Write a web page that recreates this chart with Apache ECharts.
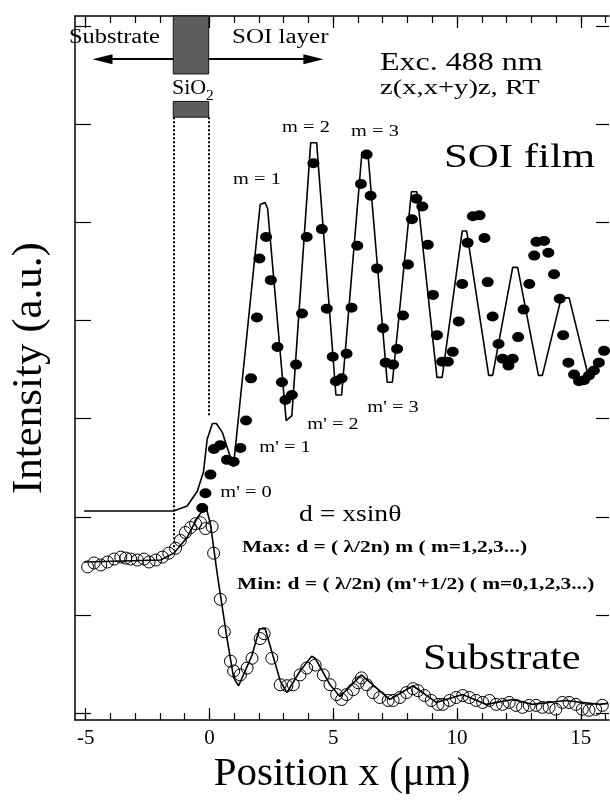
<!DOCTYPE html>
<html>
<head>
<meta charset="utf-8">
<script src="https://cdn.jsdelivr.net/npm/echarts@6/dist/echarts.min.js"></script>
<style>
  html, body { margin: 0; padding: 0; background: #fff; }
  #main { width: 610px; height: 800px; }
</style>
</head>
<body>
<div id="main"></div>
<script>
// 数据: [position x (um), intensity (a.u.)]
const soiFilmData = [
  [-0.29, 2.09], [-0.16, 2.24], [0.04, 2.43], [0.18, 2.69], [0.44, 2.73], [0.71, 2.58],
  [0.98, 2.56], [1.25, 2.70], [1.48, 2.98], [1.68, 3.41], [1.92, 4.03], [2.02, 4.63],
  [2.29, 4.85], [2.48, 4.41], [2.75, 3.73], [2.93, 3.37], [3.07, 3.19], [3.33, 3.24],
  [3.50, 3.55], [3.74, 4.07], [3.93, 4.85], [4.20, 5.60], [4.54, 4.93], [4.74, 4.12],
  [4.98, 3.63], [5.11, 3.38], [5.34, 3.41], [5.54, 3.66], [5.74, 4.13], [5.97, 4.76],
  [6.12, 5.39], [6.35, 5.69], [6.51, 5.27], [6.77, 4.53], [7.01, 3.92], [7.12, 3.57],
  [7.42, 3.55], [7.58, 3.71], [7.82, 4.05], [8.02, 4.57], [8.18, 5.03], [8.36, 5.24],
  [8.60, 5.16], [8.82, 4.77], [9.03, 4.26], [9.19, 3.85], [9.40, 3.58], [9.63, 3.58],
  [9.83, 3.68], [10.07, 3.99], [10.21, 4.37], [10.43, 4.79], [10.64, 5.06], [10.91, 5.07],
  [11.11, 4.84], [11.24, 4.39], [11.44, 4.04], [11.68, 3.76], [11.84, 3.61], [12.08, 3.54],
  [12.25, 3.61], [12.47, 3.83], [12.69, 4.11], [12.92, 4.37], [13.12, 4.66], [13.21, 4.80],
  [13.52, 4.81], [13.69, 4.69], [13.92, 4.47], [14.15, 4.22], [14.29, 3.85], [14.50, 3.57],
  [14.73, 3.45], [14.93, 3.38], [15.13, 3.39], [15.33, 3.44], [15.53, 3.49], [15.73, 3.57],
  [15.94, 3.69]
]
const soiFitLine = [
  [-5.06, 2.06], [-1.45, 2.06], [-0.90, 2.11], [-0.49, 2.26], [-0.24, 2.46], [-0.09, 2.79],
  [0.12, 2.95], [0.28, 2.95], [0.52, 2.86], [0.97, 2.51], [2.05, 5.18], [2.25, 5.20],
  [2.35, 5.14], [3.10, 2.98], [3.33, 3.03], [4.09, 5.81], [4.33, 5.81], [5.11, 3.24],
  [5.34, 3.24], [6.16, 5.71], [6.40, 5.71], [7.18, 3.37], [7.39, 3.37], [8.16, 5.31],
  [8.38, 5.31], [9.19, 3.42], [9.40, 3.42], [10.21, 4.91], [10.39, 4.91], [11.28, 3.44],
  [11.44, 3.44], [12.25, 4.54], [12.45, 4.54], [13.29, 3.44], [13.45, 3.44], [14.21, 4.23],
  [14.53, 4.23], [15.26, 3.48]
]
const substrateData = [
  [-4.92, 1.49], [-4.66, 1.53], [-4.39, 1.51], [-4.12, 1.54], [-3.85, 1.57], [-3.58, 1.59],
  [-3.38, 1.58], [-3.18, 1.57], [-2.91, 1.56], [-2.64, 1.57], [-2.44, 1.54], [-2.17, 1.56],
  [-1.90, 1.59], [-1.64, 1.63], [-1.37, 1.68], [-1.17, 1.76], [-0.97, 1.84], [-0.76, 1.89],
  [-0.56, 1.93], [-0.36, 1.94], [-0.16, 1.88], [0.11, 1.90], [0.17, 1.63], [0.44, 1.16],
  [0.60, 0.83], [0.85, 0.53], [0.98, 0.43], [1.25, 0.39], [1.52, 0.46], [1.72, 0.56],
  [2.05, 0.76], [2.21, 0.81], [2.52, 0.56], [2.86, 0.29], [3.13, 0.28], [3.39, 0.29],
  [3.66, 0.39], [3.93, 0.46], [4.27, 0.49], [4.60, 0.39], [4.87, 0.29], [5.14, 0.19],
  [5.34, 0.14], [5.54, 0.19], [5.81, 0.24], [6.01, 0.31], [6.14, 0.36], [6.35, 0.29],
  [6.61, 0.21], [6.88, 0.16], [7.22, 0.13], [7.42, 0.13], [7.69, 0.16], [7.96, 0.21],
  [8.22, 0.25], [8.42, 0.23], [8.69, 0.18], [8.96, 0.13], [9.23, 0.09], [9.43, 0.09],
  [9.70, 0.13], [9.97, 0.16], [10.23, 0.18], [10.50, 0.16], [10.77, 0.13], [11.04, 0.11],
  [11.31, 0.13], [11.58, 0.09], [11.84, 0.09], [12.11, 0.11], [12.38, 0.08], [12.65, 0.06],
  [12.92, 0.08], [13.19, 0.08], [13.45, 0.06], [13.72, 0.06], [13.99, 0.04], [14.26, 0.11],
  [14.53, 0.11], [14.80, 0.09], [15.06, 0.04], [15.33, 0.03], [15.60, 0.04], [15.87, 0.08]
]
const substrateFitLine = [
  [-5.06, 1.54], [-1.97, 1.56], [-1.44, 1.63], [-0.90, 1.79], [-0.49, 1.99], [-0.23, 2.08],
  [-0.14, 2.10], [0.04, 1.93], [0.31, 1.43], [0.71, 0.76], [0.98, 0.36], [1.18, 0.28],
  [1.72, 0.59], [2.02, 0.86], [2.25, 0.86], [2.86, 0.33], [3.13, 0.21], [3.66, 0.43],
  [4.13, 0.58], [4.27, 0.56], [4.87, 0.29], [5.27, 0.17], [6.14, 0.39], [7.28, 0.14],
  [8.22, 0.28], [9.16, 0.11], [10.23, 0.19], [11.18, 0.09], [12.25, 0.14], [13.05, 0.09],
  [14.39, 0.13], [15.73, 0.09], [16.10, 0.10]
]
const xMinorTicks = [-5, -4, -3, -2, -1, 0, 1, 2, 3, 4, 5, 6, 7, 8, 9, 10, 11, 12, 13, 14, 15, 16]
const xMajorTicks = [-5, 0, 5, 10, 15]
const yTicks = [0, 1, 2, 3, 4, 5, 6, 7]
// SiO2 层位置
const sio2Range = [-1.46, -0.03]

const serif = '"Liberation Serif", "DejaVu Serif", serif'
let myChart = echarts.init(document.getElementById('main'))

function xAxisOf (position, ticks, len, showLine, showLabel) {
  return {
    type: 'value',
    position: position,
    min: -5.43,
    max: 16.14,
    axisLine: { show: showLine, onZero: false, lineStyle: { color: '#000', width: 1.5 } },
    axisTick: { show: true, inside: true, length: len, customValues: ticks, lineStyle: { color: '#000', width: 1.2 } },
    axisLabel: {
      show: showLabel,
      customValues: ticks,
      color: '#000',
      fontFamily: serif,
      fontSize: 21,
      margin: 8
    },
    splitLine: { show: false }
  }
}

function yAxisOf (position, len, showLine, name) {
  return {
    type: 'value',
    position: position,
    min: -0.07,
    max: 7.1,
    name: name,
    nameLocation: 'middle',
    nameGap: 24,
    nameTextStyle: { color: '#000', fontFamily: serif, fontSize: 43 },
    axisLine: { show: showLine, onZero: false, lineStyle: { color: '#000', width: 1.5 } },
    axisTick: { show: true, inside: true, length: len, customValues: yTicks, lineStyle: { color: '#000', width: 1.2 } },
    axisLabel: { show: false, customValues: yTicks },
    splitLine: { show: false }
  }
}

// 主刻度带标签, 次刻度单独一根轴
let xBottom = xAxisOf('bottom', xMajorTicks, 12, true, true)
xBottom.name = 'Position x (\u03bcm)'
xBottom.nameLocation = 'middle'
xBottom.nameGap = 29
xBottom.nameTextStyle = { color: '#000', fontFamily: serif, fontSize: 41 }

// 文字标注 (原图文字横向略宽, 用 scaleX 拉伸)
function txt (text, x, y, size, sx, align, bold) {
  return {
    type: 'text',
    x: x,
    y: y,
    scaleX: sx,
    z: 100,
    style: {
      text: text,
      fill: '#000',
      font: (bold ? 'bold ' : '') + size + 'px ' + serif,
      textAlign: align || 'left',
      textVerticalAlign: 'middle'
    }
  }
}

let option = {
  animation: false,
  backgroundColor: '#fff',
  grid: { left: 74, right: 1, top: 16, bottom: 67 },
  xAxis: [
    xBottom,
    xAxisOf('bottom', xMinorTicks, 7, false, false),
    xAxisOf('top', xMajorTicks, 12, true, false),
    xAxisOf('top', xMinorTicks, 7, false, false)
  ],
  yAxis: [
    yAxisOf('left', 16, true, 'Intensity (a.u.)'),
    yAxisOf('right', 13, false, '')
  ],
  graphic: [
    txt('Substrate', 69, 38, 20, 1.22),
    txt('SOI layer', 232, 38, 20, 1.25),
    txt('SiO', 172, 89, 20, 1.1),
    txt('2', 206, 96, 14, 1.1),
    txt('Exc. 488 nm', 380, 63, 25, 1.28),
    txt('z(x,x+y)z, RT', 380, 88, 22, 1.3),
    txt('SOI film', 444, 158, 34, 1.26),
    txt('m = 1', 257, 180, 17, 1.2, 'center'),
    txt('m = 2', 306, 128, 17, 1.2, 'center'),
    txt('m = 3', 375, 132, 17, 1.2, 'center'),
    txt("m' = 0", 246, 493, 17, 1.2, 'center'),
    txt("m' = 1", 285, 448, 17, 1.2, 'center'),
    txt("m' = 2", 333, 425, 17, 1.2, 'center'),
    txt("m' = 3", 393, 408, 17, 1.2, 'center'),
    txt('d = xsin\u03b8', 299, 515, 24, 1.15),
    txt('Max: d = ( \u03bb/2n) m ( m=1,2,3...)', 242, 548, 16, 1.34, 'left', true),
    txt("Min: d = ( \u03bb/2n) (m'+1/2) ( m=0,1,2,3...)", 237, 585, 16, 1.34, 'left', true),
    txt('Substrate', 423, 660, 35, 1.21)
  ],
  series: [
    {
      name: 'SOI fit',
      type: 'line',
      data: soiFitLine,
      showSymbol: false,
      lineStyle: { color: '#000', width: 1.6 },
      z: 2,
      // SiO2 区域标注
      markArea: {
        silent: true,
        itemStyle: { color: '#5e5e5e', borderColor: '#111', borderWidth: 1 },
        data: [
          [{ coord: [sio2Range[0], 7.1] }, { coord: [sio2Range[1], 6.51] }],
          [{ coord: [sio2Range[0], 6.23] }, { coord: [sio2Range[1], 6.07] }]
        ]
      },
      markLine: {
        silent: true,
        symbol: ['none', 'none'],
        label: { show: false },
        lineStyle: { color: '#000', type: [2, 2], width: 2 },
        data: [
          [{ coord: [sio2Range[0], 6.07] }, { coord: [sio2Range[0], 1.66] }],
          [{ coord: [sio2Range[1], 6.07] }, { coord: [sio2Range[1], 3.03] }],
          [
            { coord: [sio2Range[0], 6.66], symbol: 'none', lineStyle: { type: 'solid' } },
            { coord: [-4.32, 6.66], symbol: 'triangle', symbolSize: [10, 20], symbolRotate: 90 }
          ],
          [
            { coord: [sio2Range[1], 6.66], symbol: 'none', lineStyle: { type: 'solid' } },
            { coord: [4.2, 6.66], symbol: 'triangle', symbolSize: [10, 20], symbolRotate: -90 }
          ]
        ]
      }
    },
    {
      name: 'SOI film',
      type: 'scatter',
      data: soiFilmData,
      symbol: 'circle',
      symbolSize: [12, 10],
      itemStyle: { color: '#000', opacity: 1 },
      z: 3
    },
    {
      name: 'Substrate fit',
      type: 'line',
      data: substrateFitLine,
      showSymbol: false,
      lineStyle: { color: '#000', width: 1.6 },
      z: 2
    },
    {
      name: 'Substrate',
      type: 'scatter',
      data: substrateData,
      symbol: 'circle',
      symbolSize: 12,
      itemStyle: { color: 'rgba(0,0,0,0)', borderColor: '#000', borderWidth: 1, opacity: 1 },
      z: 3
    }
  ]
}

myChart.setOption(option)
</script>
</body>
</html>
